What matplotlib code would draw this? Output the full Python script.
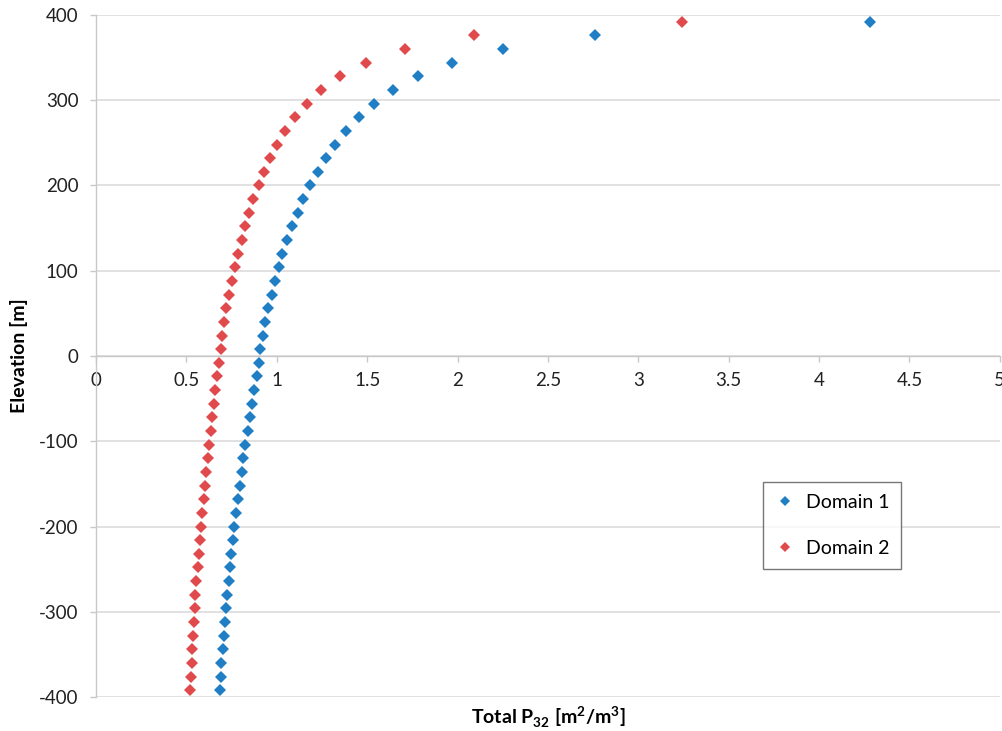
import numpy as np
import matplotlib
matplotlib.use("Agg")
import matplotlib.pyplot as plt

plt.rcParams['font.family'] = ['Lato', 'DejaVu Sans']
plt.rcParams['mathtext.fontset'] = 'custom'
plt.rcParams['mathtext.rm'] = 'Lato'
plt.rcParams['mathtext.bf'] = 'Lato:bold'
plt.rcParams['axes.unicode_minus'] = False

## elevation of each cell centre (m), top to bottom
elevation = [392, 376, 360, 344, 328, 312, 296, 280, 264, 248,
             232, 216, 200, 184, 168, 152, 136, 120, 104, 88,
             72, 56, 40, 24, 8, -8, -24, -40, -56, -72,
             -88, -104, -120, -136, -152, -168, -184, -200, -216, -232,
             -248, -264, -280, -296, -312, -328, -344, -360, -376, -392]

## total P32 per domain
domain1 = [4.28, 2.76, 2.25, 1.97, 1.78, 1.645, 1.54, 1.453, 1.383, 1.322,
           1.272, 1.227, 1.185, 1.147, 1.118, 1.086, 1.059, 1.031, 1.013, 0.989,
           0.971, 0.952, 0.934, 0.922, 0.910, 0.900, 0.889, 0.876, 0.864, 0.851,
           0.842, 0.827, 0.814, 0.805, 0.796, 0.786, 0.777, 0.766, 0.759, 0.749,
           0.740, 0.735, 0.727, 0.718, 0.713, 0.707, 0.700, 0.694, 0.689, 0.685]

domain2 = [3.24, 2.09, 1.71, 1.495, 1.348, 1.243, 1.17, 1.10, 1.048, 1.002,
           0.965, 0.93, 0.90, 0.871, 0.845, 0.823, 0.805, 0.786, 0.768, 0.753,
           0.736, 0.721, 0.709, 0.699, 0.690, 0.680, 0.671, 0.661, 0.654, 0.644,
           0.639, 0.626, 0.617, 0.611, 0.604, 0.598, 0.589, 0.582, 0.578, 0.569,
           0.562, 0.556, 0.550, 0.547, 0.543, 0.538, 0.532, 0.529, 0.523, 0.519]

blue = "#1f7ec4"
red = "#e04a4d"
grey = "#c8c8c8"

fig = plt.figure(figsize=(10.02, 7.31), dpi=100)
ax = fig.add_axes([0.0958, 0.0465, 0.902, 0.933])

ax.plot(domain1, elevation, linestyle="none", marker="D", ms=6.3,
        color=blue, markeredgewidth=0, label="Domain 1", zorder=3)
ax.plot(domain2, elevation, linestyle="none", marker="D", ms=6.3,
        color=red, markeredgewidth=0, label="Domain 2", zorder=3)

ax.set_xlim(0, 5)
ax.set_ylim(-400, 400)
ax.set_xticks(np.arange(0, 5.01, 0.5))
ax.set_xticklabels(["0", "0.5", "1", "1.5", "2", "2.5", "3", "3.5", "4", "4.5", "5"])
ax.set_yticks(np.arange(-400, 401, 100))

## x axis crosses at elevation 0
ax.spines['bottom'].set_position(('data', 0))
ax.spines['top'].set_visible(False)
ax.spines['right'].set_visible(False)
for s in ['bottom', 'left']:
    ax.spines[s].set_color(grey)
    ax.spines[s].set_linewidth(1.0)

ax.yaxis.grid(True, color="#d9d9d9", linewidth=1.1)
ax.set_axisbelow(True)
ax.tick_params(axis='both', colors=grey, labelcolor="#222222",
               labelsize=13.5, length=4.5, width=1.0)
ax.tick_params(axis='x', direction='out', pad=7)
ax.tick_params(axis='y', pad=8)

ax.set_xlabel(r"Total P$_{\mathbf{32}}$ [m$^{\mathbf{2}}$/m$^{\mathbf{3}}$]",
              fontsize=14, fontweight="bold")
ax.xaxis.set_label_coords(0.5, -0.011)
ax.set_ylabel("Elevation [m]", fontsize=14, fontweight="bold")
ax.yaxis.set_label_coords(-0.075, 0.5)

leg = ax.legend(loc="upper left", bbox_to_anchor=(0.738, 0.315), fontsize=14,
                frameon=True, fancybox=False, borderpad=0.6, labelspacing=1.5,
                handlelength=1.1, handletextpad=0.5, borderaxespad=0,
                markerscale=0.85)
leg.get_frame().set_edgecolor("#555555")
leg.get_frame().set_linewidth(1.0)

fig.savefig("out.png", dpi=100)
